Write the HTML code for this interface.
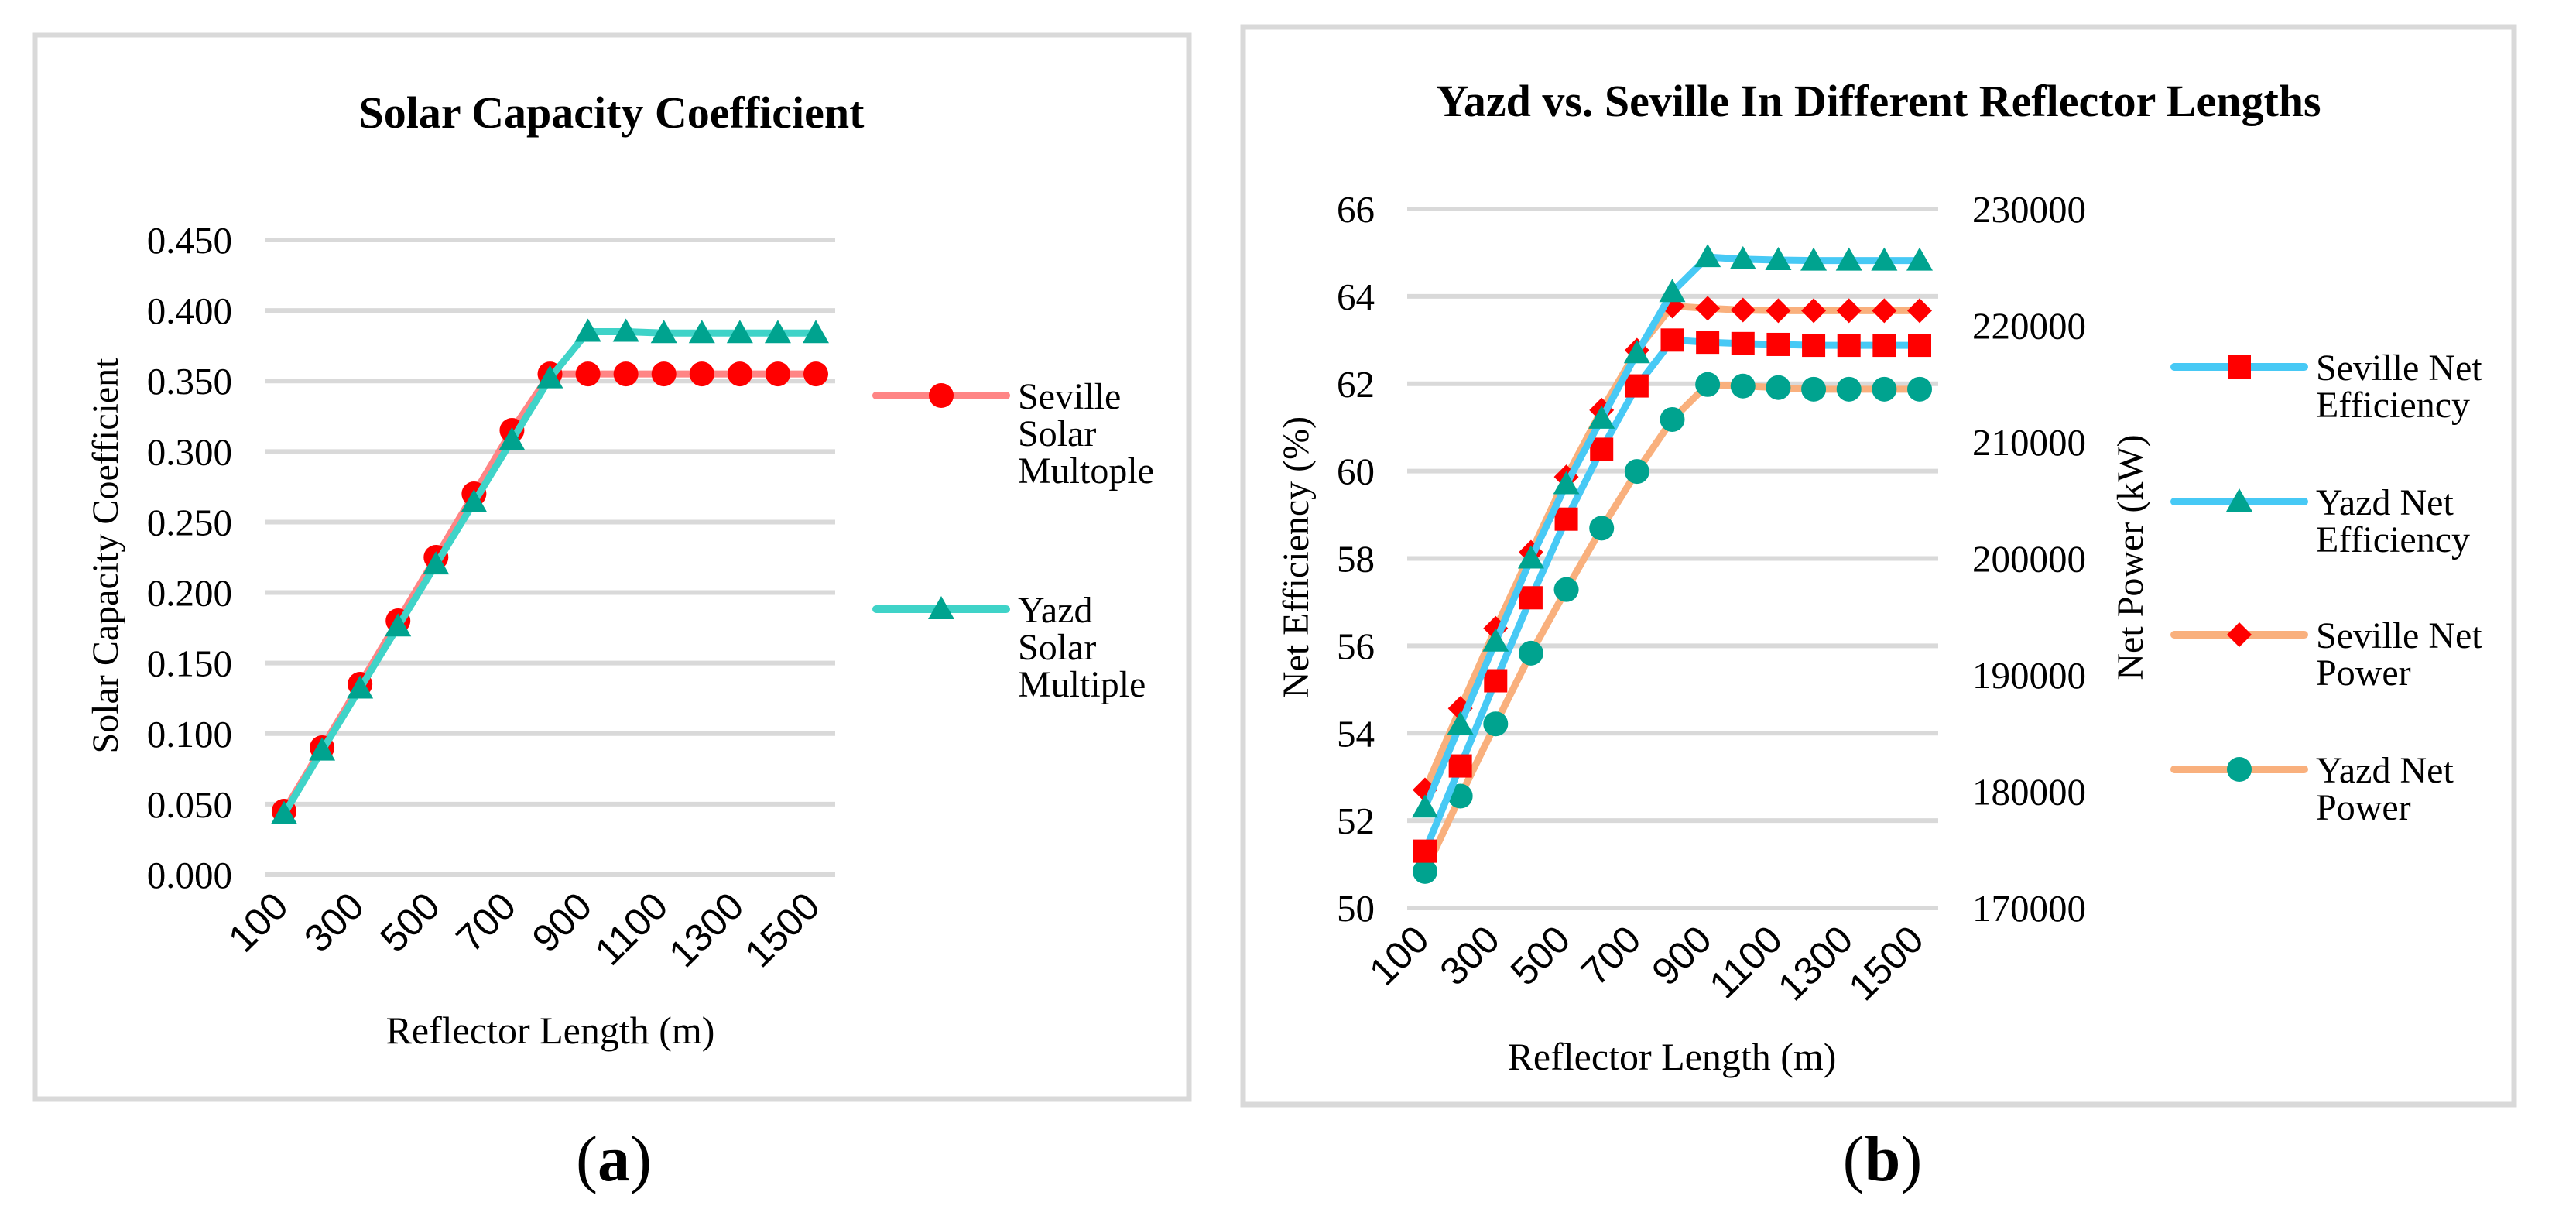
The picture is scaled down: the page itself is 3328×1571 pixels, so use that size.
<!DOCTYPE html>
<html><head><meta charset="utf-8"><style>
html,body{margin:0;padding:0;background:#fff}
svg{display:block}
text{font-family:"Liberation Serif",serif;fill:#000}
text.tk{font-family:"Liberation Sans",sans-serif}
</style></head><body>
<svg id="root" width="3328" height="1571" viewBox="0 0 3328 1571" xmlns="http://www.w3.org/2000/svg" font-family="Liberation Serif, serif">
<rect x="45" y="45" width="1491" height="1375" fill="#fff" stroke="#d9d9d9" stroke-width="7"/>
<rect x="1606" y="35" width="1642" height="1392" fill="#fff" stroke="#d9d9d9" stroke-width="7"/>
<g id="ca"></g>
<g id="cb"></g>
<text x="793" y="1525" font-size="84" text-anchor="middle">(<tspan font-weight="bold">a</tspan>)</text>
<text x="2432" y="1525" font-size="84" text-anchor="middle">(<tspan font-weight="bold">b</tspan>)</text>
</svg>
<script>
const categories=[100,200,300,400,500,600,700,800,900,1000,1100,1200,1300,1400,1500];
const tickLabelsX=[100,300,500,700,900,1100,1300,1500];
const sevilleSolar=[0.045,0.09,0.135,0.18,0.225,0.27,0.315,0.355,0.355,0.355,0.355,0.355,0.355,0.355,0.355];
const yazdSolar=[0.043,0.088,0.132,0.176,0.22,0.264,0.308,0.352,0.385,0.385,0.384,0.384,0.384,0.384,0.384];
const ticksA=[0,0.05,0.1,0.15,0.2,0.25,0.3,0.35,0.4,0.45];
const sevilleEff=[51.3,53.25,55.2,57.1,58.9,60.5,61.95,63.0,62.95,62.92,62.9,62.88,62.88,62.88,62.88];
const yazdEff=[52.3,54.2,56.1,58.0,59.7,61.2,62.7,64.1,64.9,64.85,64.83,64.82,64.82,64.82,64.82];
const sevillePower=[180130,187130,194000,200530,207000,212730,217870,221670,221470,221330,221270,221270,221270,221270,221270];
const yazdPower=[173130,179600,185800,191870,197330,202600,207470,211930,214930,214800,214670,214530,214530,214530,214530];
const ticksBL=[50,52,54,56,58,60,62,64,66];
const ticksBR=[170000,180000,190000,200000,210000,220000,230000];

const NS='http://www.w3.org/2000/svg';
function mk(p,t,a){const e=document.createElementNS(NS,t);for(const k in a)e.setAttribute(k,a[k]);p.appendChild(e);return e;}
function marker(g,type,x,y,fill){
 let e;
 if(type==='circle')e=mk(g,'circle',{cx:x,cy:y,r:16,fill:fill});
 else if(type==='square')e=mk(g,'rect',{x:x-15,y:y-15,width:30,height:30,fill:fill});
 else if(type==='tri')e=mk(g,'polygon',{points:`${x},${y-17} ${x+17},${y+13} ${x-17},${y+13}`,fill:fill});
 else e=mk(g,'polygon',{points:`${x},${y-16} ${x+16},${y} ${x},${y+16} ${x-16},${y}`,fill:fill});
 return e;
}
function series(g,vals,xf,yf,lc,type,mc,name){
 const s=mk(g,'g',{});
 
 
 const pts=vals.map((v,i)=>xf(i)+','+yf(v)).join(' ');
 const l=mk(s,'polyline',{points:pts,fill:'none',stroke:lc,'stroke-width':9,'stroke-linejoin':'round','stroke-linecap':'round'});
 
 
 vals.forEach((v,i)=>{const m=marker(s,type,xf(i),yf(v),mc);
  
  });
}
function txt(g,x,y,s,size,anchor,extra){const e=mk(g,'text',Object.assign({x:x,y:y,'font-size':size,'text-anchor':anchor||'start','font-family':'Liberation Serif, serif'},extra||{}));e.textContent=s;return e;}
function legend(g,x,y,lc,type,mc,lines,name){
 const lg=mk(g,'g',{});
 
 
 mk(lg,'line',{x1:x,y1:y,x2:x+168,y2:y,stroke:lc,'stroke-width':10,'stroke-linecap':'round'});
 marker(lg,type,x+84,y,mc);
 lines.forEach((s,i)=>txt(lg,x+183,y+17+i*48,s,48));
}

// Chart A
(function(){
 const g=document.getElementById('ca');
 const x0=367,dx=(1054-367)/14,yb=1130,yt=310;
 const xf=i=>x0+i*dx, yf=v=>yb-(v/0.45)*(yb-yt);
 txt(g,790,165,'Solar Capacity Coefficient',58,'middle',{'font-weight':'bold'});
 ticksA.forEach(t=>{
  const l=mk(g,'line',{x1:343,x2:1079,y1:yf(t),y2:yf(t),stroke:'#d9d9d9','stroke-width':6});
  
  
  const e=txt(g,300,yf(t)+17,t.toFixed(3),49,'end');
  
 });
 categories.forEach((c,i)=>{ if(tickLabelsX.includes(c)){
  const x=xf(i)+8,y=1174;
  const e=txt(g,x,y,String(c),50,'end',{transform:`rotate(-45 ${x} ${y})`,class:'tk','font-family':'Liberation Sans, sans-serif'});
  
 }});
 const yt1=txt(g,0,0,'Solar Capacity Coefficient',48,'middle',{transform:'translate(152,718) rotate(-90)'});
 
 const xt=txt(g,711,1348,'Reflector Length (m)',50,'middle');
 
 series(g,sevilleSolar,xf,yf,'#ff8585','circle','#ff0000','seville-solar-series');
 series(g,yazdSolar,xf,yf,'#3fd3c8','tri','#00a38f','yazd-solar-series');
 legend(g,1132,511,'#ff8585','circle','#ff0000',['Seville','Solar','Multople'],'legend-seville');
 legend(g,1132,787,'#3fd3c8','tri','#00a38f',['Yazd','Solar','Multiple'],'legend-yazd');
})();

// Chart B
(function(){
 const g=document.getElementById('cb');
 const x0=1841,dx=(2480-1841)/14,yb=1173,yt=270;
 const xf=i=>x0+i*dx;
 const yL=v=>yb-(v-50)/16*(yb-yt);
 const yR=v=>yb-(v-170000)/60000*(yb-yt);
 txt(g,2427,150,'Yazd vs. Seville In Different Reflector Lengths',58,'middle',{'font-weight':'bold'});
 ticksBL.forEach(t=>{
  const l=mk(g,'line',{x1:1818,x2:2504,y1:yL(t),y2:yL(t),stroke:'#d9d9d9','stroke-width':6});
  
  
  const e=txt(g,1776,yL(t)+17,String(t),49,'end');
  
 });
 ticksBR.forEach(t=>{
  const e=txt(g,2695,yR(t)+17,String(t),49,'end');
  
 });
 categories.forEach((c,i)=>{ if(tickLabelsX.includes(c)){
  const x=xf(i)+8,y=1217;
  const e=txt(g,x,y,String(c),50,'end',{transform:`rotate(-45 ${x} ${y})`,class:'tk','font-family':'Liberation Sans, sans-serif'});
  
 }});
 txt(g,0,0,'Net Efficiency (%)',48,'middle',{transform:'translate(1690,720) rotate(-90)'});
 txt(g,0,0,'Net Power (kW)',48,'middle',{transform:'translate(2768,720) rotate(-90)'});
 txt(g,2160,1382,'Reflector Length (m)',50,'middle');
 series(g,yazdPower,xf,yR,'#f9b07d','circle','#00a38f','yazd-power-series');
 series(g,sevillePower,xf,yR,'#f9b07d','diamond','#ff0000','seville-power-series');
 series(g,sevilleEff,xf,yL,'#47c9f5','square','#ff0000','seville-efficiency-series');
 series(g,yazdEff,xf,yL,'#47c9f5','tri','#00a38f','yazd-efficiency-series');
 legend(g,2809,474,'#47c9f5','square','#ff0000',['Seville Net','Efficiency'],'legend-seville-efficiency');
 legend(g,2809,648,'#47c9f5','tri','#00a38f',['Yazd Net','Efficiency'],'legend-yazd-efficiency');
 legend(g,2809,820,'#f9b07d','diamond','#ff0000',['Seville Net','Power'],'legend-seville-power');
 legend(g,2809,994,'#f9b07d','circle','#00a38f',['Yazd Net','Power'],'legend-yazd-power');
})();
</script>
</body></html>
